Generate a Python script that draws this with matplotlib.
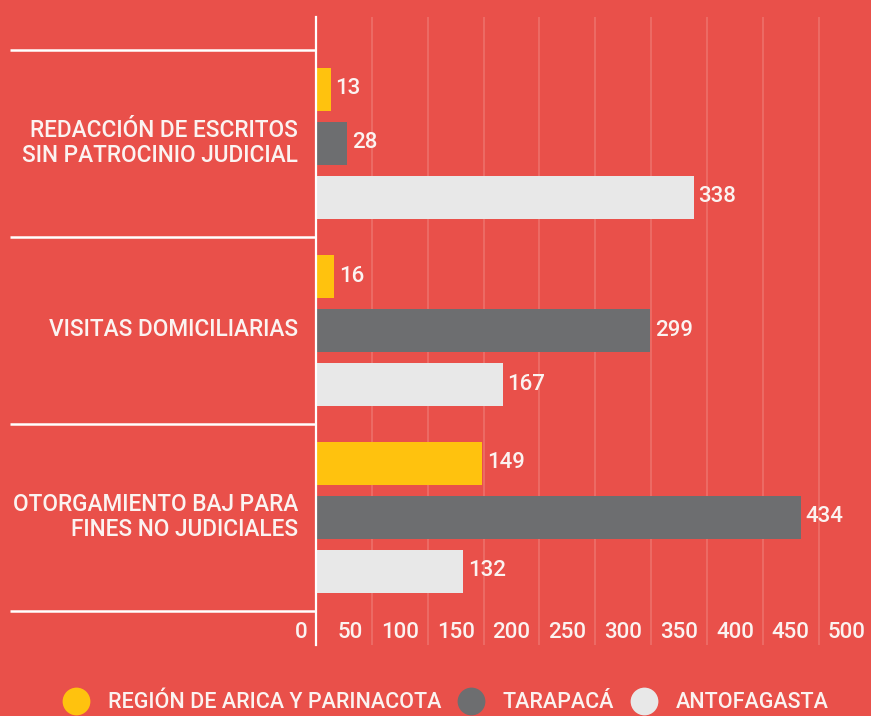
import matplotlib
matplotlib.use("Agg")
import matplotlib.pyplot as plt
from matplotlib.lines import Line2D
from matplotlib import transforms

# datos
categorias = ["REDACCIÓN DE ESCRITOS\nSIN PATROCINIO JUDICIAL",
              "VISITAS DOMICILIARIAS",
              "OTORGAMIENTO BAJ PARA\nFINES NO JUDICIALES"]
regiones = ["REGIÓN DE ARICA Y PARINACOTA", "TARAPACÁ", "ANTOFAGASTA"]
arica = [13, 16, 149]
tarapaca = [28, 299, 434]
antofagasta = [338, 167, 132]
ticks = [0, 50, 100, 150, 200, 250, 300, 350, 400, 450, 500]

fondo = "#E9504A"
colores = ["#FFC20E", "#6D6E70", "#E8E8E8"]
texto = "#FBF3F1"

plt.rcParams["font.family"] = ["Roboto", "DejaVu Sans"]
fs_cat = 16.3
fs_num = 16.0
fs_leg = 15.5
peso = "medium"

fig = plt.figure(figsize=(8.71, 7.16), dpi=100, facecolor=fondo)
W, H = 871, 716
# eje: x=0 en 316 px, arriba 17 px, abajo 645 px
ax = fig.add_axes([316 / W, 1 - 645 / H, (W - 316) / W, (645 - 17) / H])
ax.set_facecolor(fondo)
ax.set_xlim(0, 555 / 1.117)
ax.set_ylim(2 + 128 / 187, -126 / 187)

paso = 54 / 187
alto = 43 / 187
series = [arica, tarapaca, antofagasta]
for k, (vals, col) in enumerate(zip(series, colores)):
    ys = [i + (k - 1) * paso for i in range(len(categorias))]
    ax.barh(ys, vals, height=alto, color=col, zorder=3)
    for y, v in zip(ys, vals):
        tr = transforms.offset_copy(ax.transData, fig=fig, x=5, y=0, units="dots")
        ax.text(v, y, str(v), transform=tr, ha="left", va="center",
                color=texto, fontsize=fs_num, fontweight=peso)

# lineas de cuadricula
for t in ticks[1:]:
    ax.axvline(t, color="white", alpha=0.18, lw=1.2, zorder=1)
for s in ["top", "right", "bottom"]:
    ax.spines[s].set_visible(False)
ax.spines["left"].set_color("white")
ax.spines["left"].set_linewidth(1.6)
ax.spines["left"].set_zorder(4)
ax.set_xticks([])
ax.set_yticks([])

# etiquetas del eje x, a la izquierda de cada linea
trx = transforms.blended_transform_factory(ax.transData, ax.transAxes)
trx = transforms.offset_copy(trx, fig=fig, x=-9, y=0, units="dots")
for t in ticks:
    ax.text(t, 13 / 628, str(t), transform=trx, ha="right", va="center",
            color=texto, fontsize=fs_num, fontweight=peso, clip_on=False)

# separadores y categorias
trs = transforms.blended_transform_factory(ax.transAxes, ax.transData)
for i in range(len(categorias) + 1):
    ax.plot([-306 / 555, 0], [i - 0.5, i - 0.5], transform=trs,
            color="white", lw=1.8, clip_on=False, solid_capstyle="butt")
trc = transforms.offset_copy(ax.transData, fig=fig, x=-18, y=0, units="dots")
for i, c in enumerate(categorias):
    ax.text(0, i, c, transform=trc, ha="right", va="center", color=texto,
            fontsize=fs_cat, fontweight=peso, linespacing=1.16, multialignment="right")

# leyenda
handles = [Line2D([], [], marker="o", ls="", markersize=20, color=c, markeredgewidth=0)
           for c in colores]
leg = fig.legend(handles, regiones, loc="center", bbox_to_anchor=(0.511, 1 - 703 / H),
                 ncol=3, frameon=False, fontsize=fs_leg, handlelength=1.35,
                 handletextpad=0.8, columnspacing=0.72, borderpad=0)
for t in leg.get_texts():
    t.set_color(texto)
    t.set_fontweight(peso)

fig.savefig("out.png", dpi=100, facecolor=fondo)
